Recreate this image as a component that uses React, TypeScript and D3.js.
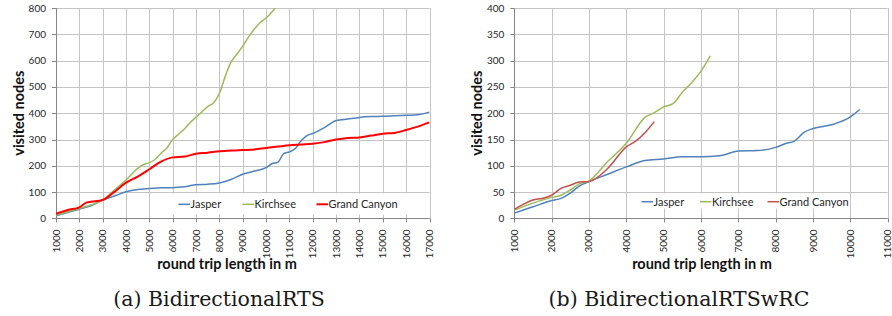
import React from "react";
import * as d3 from "d3";

// ---------- data: (a) BidirectionalRTS ----------
const jasperAX = [1000,1500,2000,2500,3000,3500,4000,4500,5000,5500,6000,6500,7000,7500,8000,8500,9000,9500,10000,10250,10500,10750,11000,11250,11500,11750,12000,12500,13000,13500,14000,14500,15000,15500,16000,16500,17000];
const jasperAY = [10,22,35,48,70,85,101,110,114,117,117,120,128,130,135,148,168,180,193,208,213,246,253,266,295,315,323,345,372,378,384,387,388,390,392,394,404];
const kirchseeAX = [1000,1500,2000,2500,3000,3500,4000,4500,4750,5000,5250,5500,5750,6000,6250,6500,6750,7000,7250,7500,7750,8000,8250,8500,8750,9000,9250,9500,9750,10000,10250,10500];
const kirchseeAY = [13,25,38,51,70,108,146,190,205,212,225,248,268,300,320,340,365,385,405,425,440,475,540,595,625,655,690,720,745,762,785,812];
const grandAX = [1000,1500,2000,2300,2500,3000,3500,4000,4500,5000,5500,6000,6500,7000,7500,8000,8500,9000,9500,10000,10500,11000,11500,12000,12500,13000,13500,14000,14500,15000,15500,16000,16500,17000];
const grandAY = [17,32,42,60,63,70,101,136,159,187,216,232,235,246,250,255,258,260,262,268,273,278,281,284,290,300,306,308,315,322,325,336,349,365];

// ---------- data: (b) BidirectionalRTSwRC ----------
const jasperBX = [1000,1500,2000,2250,2500,2750,3000,3500,4000,4500,5000,5500,6000,6500,7000,7500,8000,8250,8500,8750,9000,9500,10000,10250];
const jasperBY = [10,22,34,38,48,62,70,84,98,110,113,117,117,119,128,129,135,142,147,163,171,178,193,207];
const kirchseeBX = [1000,1500,2000,2250,2500,2750,3000,3500,4000,4500,4750,5000,5250,5500,5750,6000,6250];
const kirchseeBY = [16,29,40,44,54,66,71,108,143,192,201,212,218,240,258,280,309];
const grandBX = [1000,1250,1500,1750,2000,2250,2500,2750,3000,3500,4000,4250,4500,4750];
const grandBY = [17,27,35,38,44,57,63,69,70,95,136,147,163,184];

const xTicksA = d3.range(1000, 17001, 1000);
const yTicksA = d3.range(0, 801, 100);
const xTicksB = d3.range(1000, 11001, 1000);
const yTicksB = d3.range(0, 401, 50);

const seriesNames = ["Jasper", "Kirchsee", "Grand Canyon"];
const captions = ["(a) BidirectionalRTS", "(b) BidirectionalRTSwRC"];

const SANS = "Lato, 'Open Sans', sans-serif";

type Series = { name: string; xs: number[]; ys: number[]; color: string; width: number };

function Chart(props: {
  id: string;
  x0: number; x1: number; y0: number; y1: number;
  xDomain: [number, number]; yDomain: [number, number];
  xTicks: number[]; yTicks: number[];
  series: Series[];
  legendY: number; legendXs: number[]; legendBox: [number, number, number, number];
  yTitleX: number; xTitleX: number; caption: string; captionX: number;
}) {
  const p = props;
  const x = d3.scaleLinear().domain(p.xDomain).range([p.x0, p.x1]);
  const y = d3.scaleLinear().domain(p.yDomain).range([p.y1, p.y0]);
  const line = (s: Series) =>
    d3.line<number>().x((_, i) => x(s.xs[i])).y((v) => y(v)).curve(d3.curveMonotoneX)(s.ys) || "";
  const r = (v: number) => Math.round(v) + 0.5;
  return (
    <g>
      <defs>
        <clipPath id={p.id}>
          <rect x={p.x0} y={p.y0} width={p.x1 - p.x0} height={p.y1 - p.y0} />
        </clipPath>
      </defs>
      {p.yTicks.map((t) => (
        <line key={"hy" + t} x1={p.x0} x2={p.x1} y1={r(y(t))} y2={r(y(t))} stroke="#c4c4c4" strokeWidth={1} />
      ))}
      {p.xTicks.map((t) => (
        <line key={"vx" + t} x1={r(x(t))} x2={r(x(t))} y1={p.y0} y2={p.y1} stroke="#c4c4c4" strokeWidth={1} />
      ))}
      <rect x={p.legendBox[0]} y={p.legendBox[1]} width={p.legendBox[2]} height={p.legendBox[3]} fill="#fff" />
      <line x1={r(p.x0)} x2={r(p.x0)} y1={p.y0} y2={p.y1 + 0.5} stroke="#868686" />
      <line x1={p.x0} x2={p.x1} y1={r(p.y1)} y2={r(p.y1)} stroke="#868686" />
      {p.xTicks.map((t) => (
        <line key={"tx" + t} x1={r(x(t))} x2={r(x(t))} y1={p.y1} y2={p.y1 + 4} stroke="#868686" />
      ))}
      {p.yTicks.map((t) => (
        <line key={"ty" + t} x1={p.x0 - 4} x2={p.x0} y1={r(y(t))} y2={r(y(t))} stroke="#868686" />
      ))}
      {p.yTicks.map((t) => (
        <text key={"ly" + t} x={p.x0 - 10} y={y(t)} dy="0.35em" textAnchor="end" fontFamily={SANS} fontSize={10} fill="#262626">
          {t}
        </text>
      ))}
      {p.xTicks.map((t) => (
        <text key={"lx" + t} transform={`translate(${x(t)},${p.y1 + 11}) rotate(-90)`} dy="0.35em" textAnchor="end" fontFamily={SANS} fontSize={10} fill="#262626">
          {t}
        </text>
      ))}
      <g clipPath={`url(#${p.id})`}>
        {p.series.map((s) => (
          <path key={s.name} d={line(s)} fill="none" stroke={s.color} strokeWidth={s.width} strokeLinejoin="round" />
        ))}
      </g>
      {p.series.map((s, i) => (
        <g key={"lg" + s.name}>
          <line x1={p.legendXs[i]} x2={p.legendXs[i] + 11.5} y1={p.legendY} y2={p.legendY} stroke={s.color} strokeWidth={s.width} />
          <text x={p.legendXs[i] + 12} y={p.legendY} dy="0.35em" fontFamily={SANS} fontSize={11} fill="#262626">
            {s.name}
          </text>
        </g>
      ))}
      <text transform={`translate(${p.yTitleX},${(p.y0 + p.y1) / 2}) rotate(-90)`} textAnchor="middle" fontFamily={SANS} fontWeight="bold" fontSize={14.5} fill="#111">
        visited nodes
      </text>
      <text x={p.xTitleX} y={269} textAnchor="middle" fontFamily={SANS} fontWeight="bold" fontSize={14.5} fill="#111">
        round trip length in m
      </text>
      <text x={p.captionX} y={305.5} textAnchor="middle" fontFamily="'DejaVu Serif', serif" fontSize={20.5} fill="#1a1a1a">
        {p.caption}
      </text>
    </g>
  );
}

export default function App() {
  const seriesA: Series[] = [
    { name: seriesNames[0], xs: jasperAX, ys: jasperAY, color: "#4F81BD", width: 1.5 },
    { name: seriesNames[1], xs: kirchseeAX, ys: kirchseeAY, color: "#9BBB59", width: 1.5 },
    { name: seriesNames[2], xs: grandAX, ys: grandAY, color: "#FF0000", width: 2 },
  ];
  const seriesB: Series[] = [
    { name: seriesNames[0], xs: jasperBX, ys: jasperBY, color: "#4F81BD", width: 1.5 },
    { name: seriesNames[1], xs: kirchseeBX, ys: kirchseeBY, color: "#9BBB59", width: 1.5 },
    { name: seriesNames[2], xs: grandBX, ys: grandBY, color: "#C0504D", width: 1.5 },
  ];
  return (
    <svg width={892} height={316} style={{ position: "absolute", left: 0, top: 0, background: "#fff" }}>
      <rect width={892} height={316} fill="#fff" />
      <Chart
        id="clipA" x0={56} x1={429.5} y0={8} y1={218.4}
        xDomain={[1000, 17000]} yDomain={[0, 800]}
        xTicks={xTicksA} yTicks={yTicksA} series={seriesA}
        legendY={204.3} legendXs={[178.5, 242.5, 316.5]} legendBox={[172, 193.5, 250, 21]}
        yTitleX={24} xTitleX={227} caption={captions[0]} captionX={219}
      />
      <Chart
        id="clipB" x0={514.3} x1={887.7} y0={8} y1={218.4}
        xDomain={[1000, 11000]} yDomain={[0, 400]}
        xTicks={xTicksB} yTicks={yTicksB} series={seriesB}
        legendY={201.7} legendXs={[641.5, 700, 767.5]} legendBox={[636, 193.5, 206, 15]}
        yTitleX={481.5} xTitleX={702} caption={captions[1]} captionX={679}
      />
    </svg>
  );
}
